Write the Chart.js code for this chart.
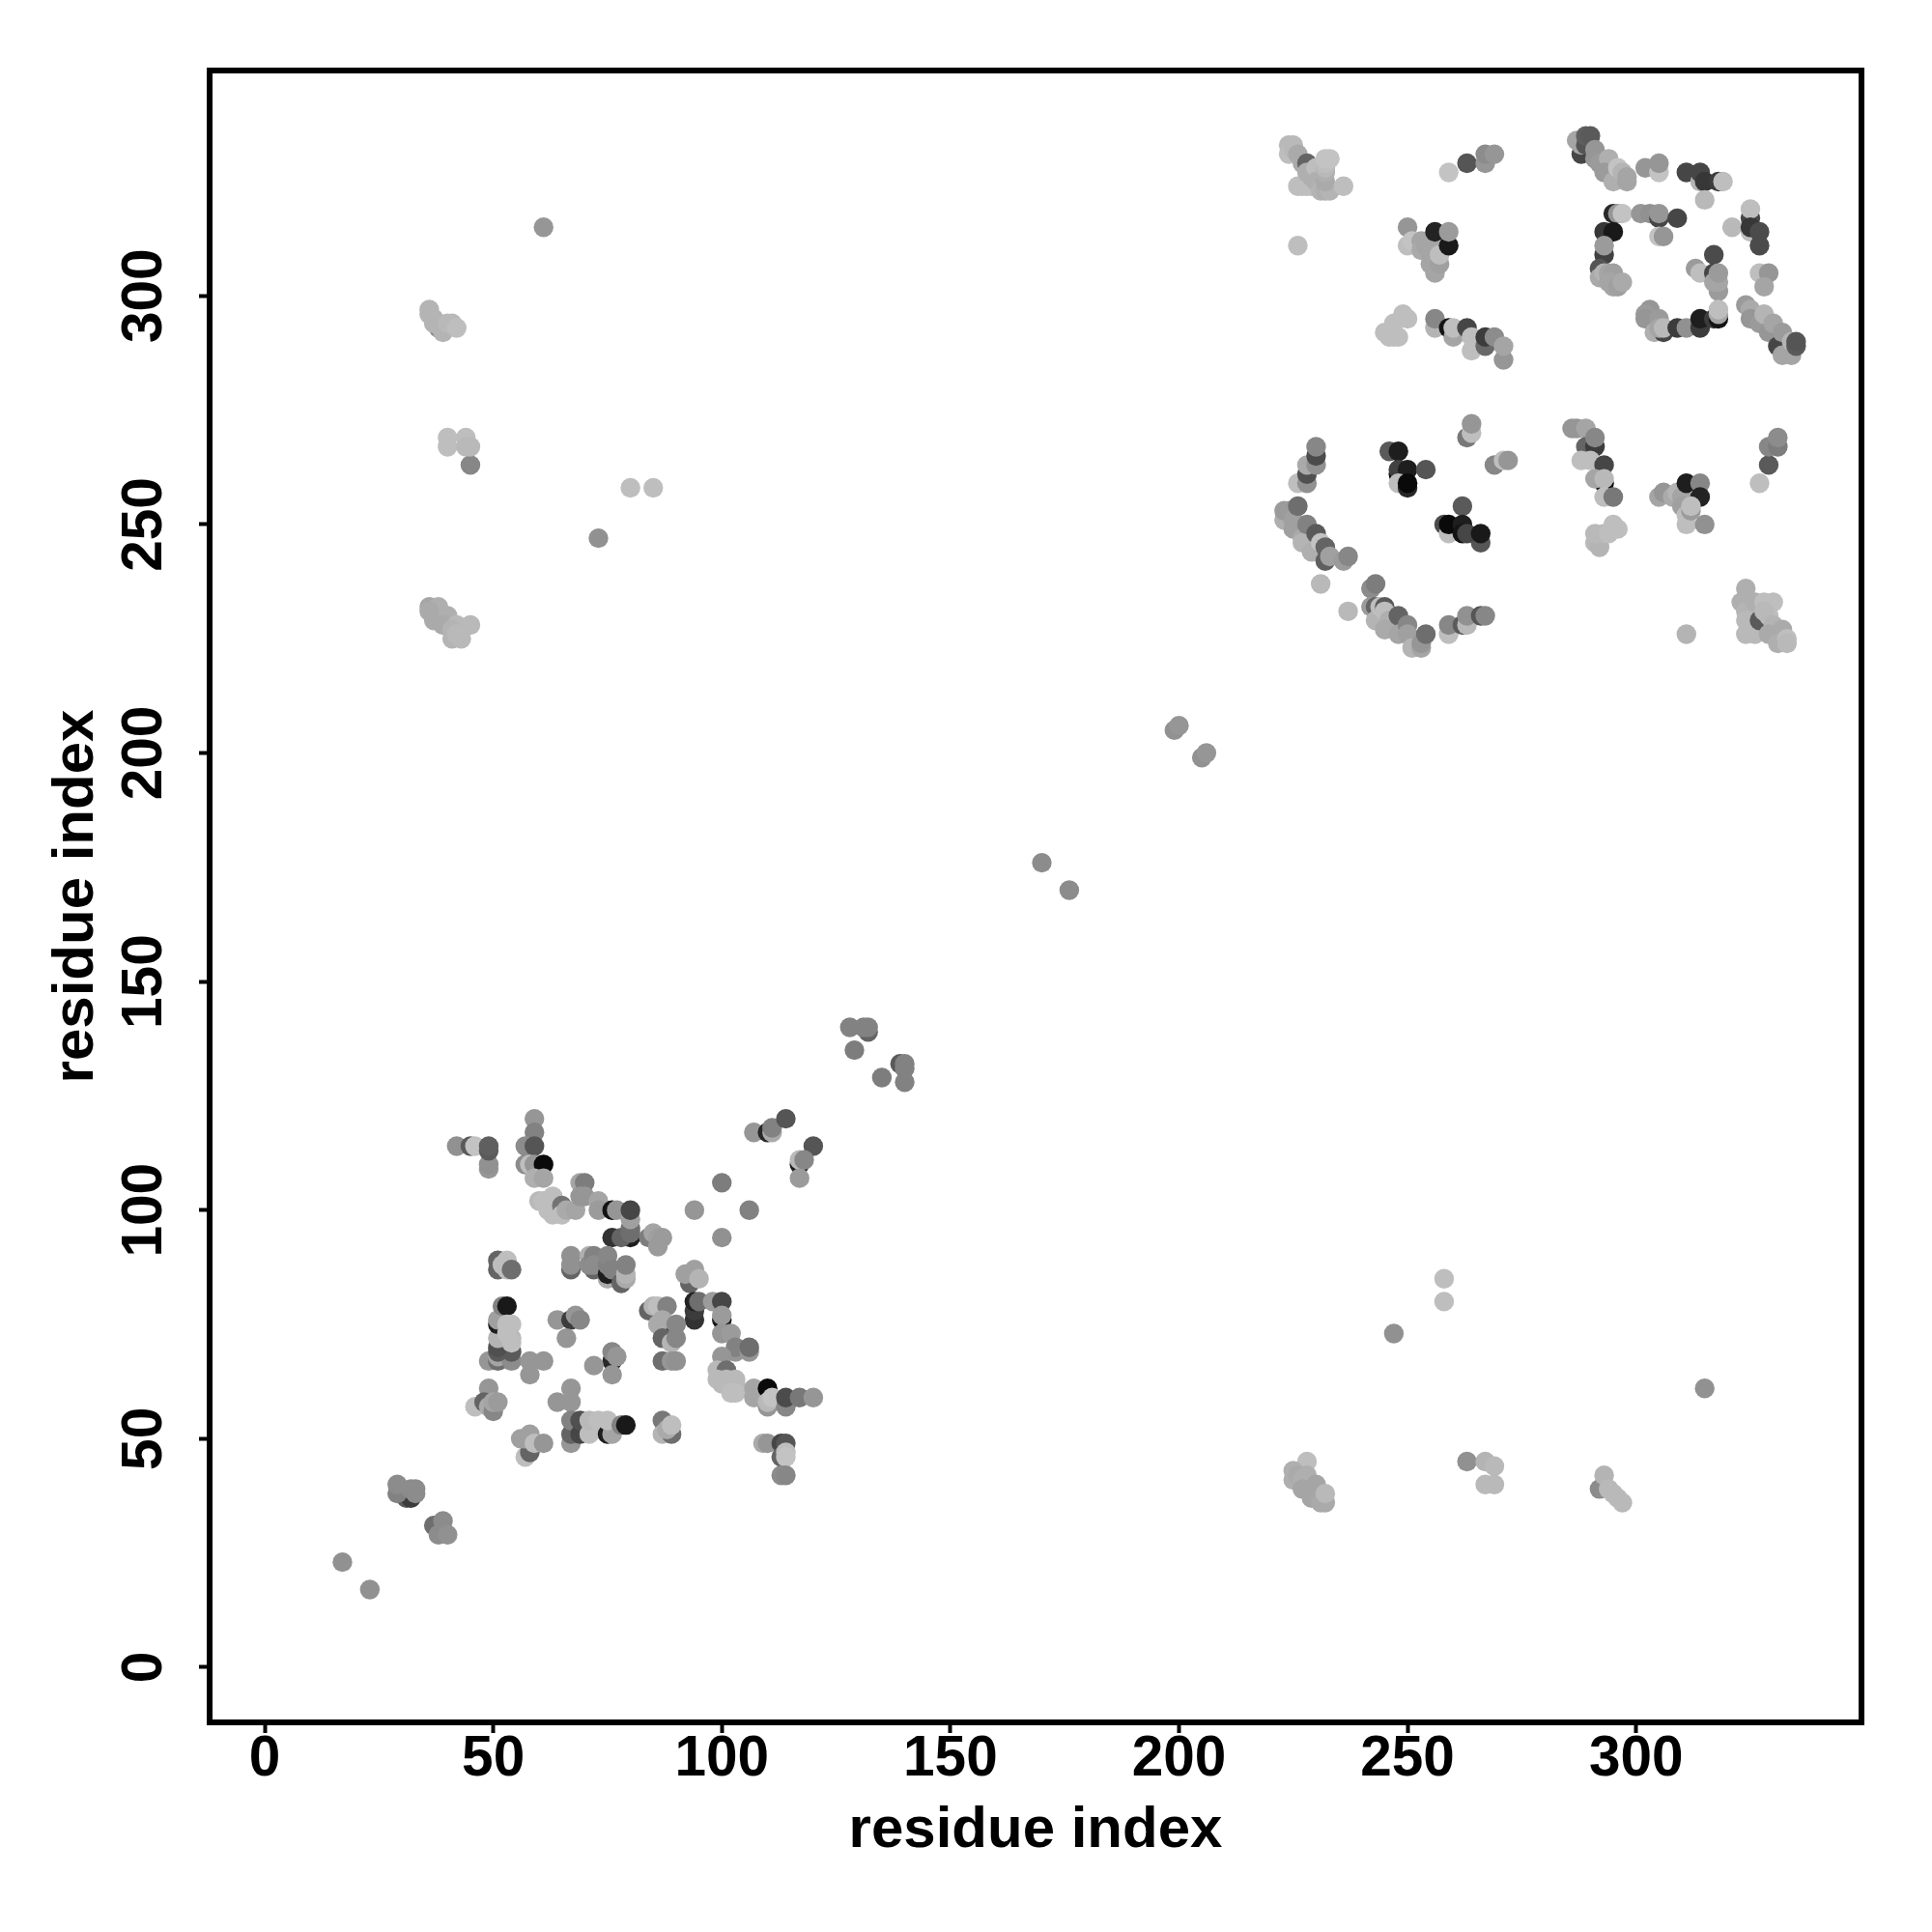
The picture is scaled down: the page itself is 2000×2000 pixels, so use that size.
<!DOCTYPE html>
<html>
<head>
<meta charset="utf-8">
<title>residue contact map</title>
<script src="https://cdn.jsdelivr.net/npm/chart.js@4"></script>
<style>
    html, body { margin: 0; padding: 0; background: #fff; }
</style>
</head>
<body>
<canvas id="contactMap" width="2000" height="2000"></canvas>
<script>
const tickValues = [0, 50, 100, 150, 200, 250, 300];
const axisLabel = 'residue index';

// contacts, one group per clump: residue x, residue y, grey level
const scatterX = [17,23,61,73,80,85,170,176,199,200,205,206,247,258,258,315,226,311];
const scatterY = [23,17,315,247,258,258,176,170,205,206,199,200,73,85,80,61,311,226];
const scatterG = [145,145,150,145,190,190,140,140,145,150,145,150,145,190,190,145,190,180];

const helixX = [31,32,29,29,32,33,33,37,39,39,38,40];
const helixY = [37,37,38,40,39,38,39,31,32,30,29,29];
const helixG = [90,60,130,140,140,140,140,110,140,140,140,145];

const turnX = [132,128,131,132,129,139,135,140,140,140];
const turnY = [139,140,140,140,135,132,129,132,131,128];
const turnG = [100,130,130,130,125,90,125,130,130,130];

const farTopX = [38,36,36,37,37,39,40,41,42];
const farTopY = [293,297,296,295,294,292,294,294,293];
const farTopG = [140,180,180,180,180,180,185,185,190];

const farMidX = [45,40,40,44,44,45];
const farMidY = [263,269,267,269,267,267];
const farMidG = [135,190,190,190,185,185];

const farLowX = [36,38,36,37,40,39,42,45,41,43,41,42];
const farLowY = [232,232,231,229,230,228,228,228,225,225,227,226];
const farLowG = [165,175,170,170,175,170,185,185,180,185,180,185];

const armTopX = [42,45,46,49,49,49,49,59,59,57,59,57,58,59,61];
const armTopY = [114,114,114,109,110,113,114,120,117,114,114,110,110,110,110];
const armTopG = [145,90,195,150,145,90,95,150,130,140,85,140,190,150,10];

const bandX = [59,61,60,61,62,63,62,63,65,65,66,68,69,70,69,70,73,73,76,77,80,76,78,80,80,80,80];
const bandY = [107,107,102,102,101,103,100,99,101,99,100,100,106,106,103,103,102,100,100,100,94,94,94,95,96,98,100];
const bandG = [175,165,185,190,190,190,190,190,115,190,170,165,165,125,150,150,165,155,20,150,30,50,100,110,110,160,70];

const crossX = [84,85,86,87,86,94,106,100,100];
const crossY = [94,95,94,94,92,100,100,106,94];
const crossG = [125,165,160,155,155,150,130,125,145];

const armRightX = [107,110,111,111,114,120,117,117,118,117];
const armRightY = [117,117,117,118,120,114,110,111,111,107];
const armRightG = [150,40,170,130,85,85,30,185,135,155];

const midLeftX = [51,51,52,53,53,54];
const midLeftY = [87,89,88,89,87,87];
const midLeftG = [100,100,190,190,190,110];

const midRowX = [67,67,67,72,71,71,72,72,75,75,75,75,76,78,79,79,79];
const midRowY = [87,88,90,87,90,88,90,88,85,86,88,90,87,84,85,86,88];
const midRowG = [100,145,145,100,175,140,130,140,170,30,130,135,130,100,170,180,130];

const midRightX = [93,92,94,94,95];
const midRightY = [84,86,87,86,85];
const midRightG = [100,160,160,160,180];

const darkRowX = [94,94,94,95,98,100,100,100,100,102];
const darkRowY = [76,78,80,80,80,80,76,77,73,73];
const darkRowG = [50,60,35,110,155,70,25,155,150,155];

const innerX = [84,85,86,88,87,86,87,87,89,90,90,87,89,90];
const innerY = [78,79,79,79,74,75,76,72,71,75,72,67,67,67];
const innerG = [100,180,190,130,30,170,170,100,180,135,135,110,150,145];

const stackX = [49,51,51,54,54,51,51,51,51,51,52,53,53,54,54,53,54];
const stackY = [67,67,68,67,69,69,70,72,75,76,79,79,75,75,72,73,71];
const stackG = [150,110,165,140,90,90,80,180,30,160,130,25,190,190,185,190,190];

const centreX = [58,61,58,64,67,68,69,66];
const centreY = [67,67,64,76,76,77,76,72];
const centreG = [150,150,150,150,60,150,135,150];

const centreLowX = [76,76,77,72,76];
const centreLowY = [67,69,68,66,64];
const centreLowG = [40,135,150,150,150];

const diagX = [103,103,106,106,100,99,101,99,100,101,103,103,102,103,107,107,110,110,110,111,114,114,117,120];
const diagY = [69,70,69,70,68,65,65,63,62,63,63,62,60,60,61,59,57,61,58,59,57,59,59,59];
const diagG = [150,130,150,110,150,185,110,185,185,185,185,185,190,190,165,165,150,10,185,195,135,75,120,150];

const footX = [109,110,113,114,113,114,114,113,114];
const footY = [49,49,49,49,46,47,46,42,42];
const footG = [170,150,70,85,100,190,195,140,135];

const lowLeftX = [49,46,48,49,50,50,51];
const lowLeftY = [61,57,58,57,56,58,58];
const lowLeftG = [150,190,100,170,135,165,155];

const lowDotsX = [67,64,67];
const lowDotsY = [61,58,58];
const lowDotsG = [150,150,150];

const lowRowX = [67,67,67,69,69,71,71,73,75,76,75,78,79];
const lowRowY = [49,51,54,51,54,51,54,54,51,51,54,53,53];
const lowRowG = [150,100,130,70,80,190,185,190,30,165,190,130,25];

const lowEndX = [87,87,89,88,89];
const lowEndY = [54,51,51,52,53];
const lowEndG = [120,180,110,170,190];

const lowCornerX = [57,58,56,57,58,59,61];
const lowCornerY = [46,47,50,50,51,49,49];
const lowCornerG = [190,100,160,160,160,190,150];

const awayAX = [228,225,225,226,227,228,227,230,229,231,232,232];
const awayAY = [45,43,41,42,41,42,39,40,37,36,36,38];
const awayAG = [190,175,175,170,175,175,165,165,165,170,170,185];

const awayBX = [263,267,269,267,269];
const awayBY = [45,45,44,40,40];
const awayBG = [145,180,185,185,185];

const awayCX = [292,293,294,295,296,297];
const awayCY = [39,42,39,38,37,36];
const awayCG = [140,180,185,185,185,185];

const blockAX = [226,227,228,229,224,225,224,225,226,227,228,228,229,230,230,231,232,233,232,232,232,232,232,233,236];
const blockAY = [324,324,324,324,333,333,331,332,331,329,329,327,326,328,325,323,323,323,325,327,328,329,330,330,324];
const blockAG = [190,190,190,190,185,185,190,185,170,170,100,175,175,190,175,180,175,180,170,175,185,190,195,195,190];

const blockBX = [259,263,267,267,269];
const blockBY = [327,329,329,331,331];
const blockBG = [195,85,150,140,150];

const blockCX = [250,250,251,253,253,254,255,255,255,256,257,257,256,259,259];
const blockCY = [315,311,312,312,310,311,311,309,307,305,307,309,314,311,314];
const blockCG = [150,190,195,165,170,165,165,165,165,165,160,190,35,25,155];

const blockDX = [245,246,247,248,247,249,250];
const blockDY = [292,291,291,291,294,296,295];
const blockDG = [190,190,190,190,190,190,190];

const blockEX = [256,256,259,260,260,263,264,264,267,267,269,271,271];
const blockEY = [293,295,293,291,293,293,288,291,289,291,291,286,289];
const blockEG = [180,135,20,165,190,70,190,190,105,60,140,150,165];

const ringTopX = [288,287,288,289,289,290,291,291,292,294,293,295,296,297,298,298];
const ringTopY = [331,334,333,333,335,335,332,330,329,330,327,325,328,327,325,326];
const ringTopG = [70,165,165,85,95,90,150,150,155,175,155,175,195,180,165,165];

const ringDotsX = [302,305,305];
const ringDotsY = [328,327,329];
const ringDotsG = [150,195,150];

const ringEdgeX = [311,314,314,315,315,318,319];
const ringEdgeY = [327,325,327,325,321,325,325];
const ringEdgeG = [70,180,70,55,185,60,190];

const ringLeftX = [295,296,297,293,295,293,293,292,292,293,294,295,294,295,296,297];
const ringLeftY = [318,318,318,314,314,309,311,306,304,305,305,305,303,302,302,303];
const ringLeftG = [40,150,195,55,25,65,155,85,170,180,165,160,165,165,160,170];

const ringMidX = [301,303,305,305,309,305,306];
const ringMidY = [318,318,317,318,317,313,313];
const ringMidG = [150,145,70,150,70,195,150];

const ringRightX = [325,325,321,325,325,327,327];
const ringRightY = [317,319,315,314,315,314,311];
const ringRightG = [70,190,185,190,55,75,75];

const ringInnerX = [317,313,314,317,318,317,318,318,327,329,328];
const ringInnerY = [309,306,305,305,301,303,303,305,305,305,302];
const ringInnerG = [75,155,190,70,155,165,165,155,190,150,165];

const ringLowX = [303,302,302,305,304,306,305,306,309,311,314,314,317,318,318,318];
const ringLowY = [297,296,295,295,292,292,293,293,293,293,293,295,295,295,296,297];
const ringLowG = [150,155,150,155,175,70,165,185,60,145,60,30,60,20,165,190];

const ringEndX = [324,325,325,327,328,329,330,331,332,332,334,334,335,335];
const ringEndY = [298,297,295,294,296,292,294,289,292,287,287,290,289,290];
const ringEndG = [155,170,150,155,180,150,165,70,155,165,165,180,90,85];

const arcTopX = [226,228,228,228,230,230,230];
const arcTopY = [259,259,261,263,263,265,267];
const arcTopG = [190,145,80,170,145,75,135];

const arcSideX = [223,223,224,225,226,225,227,227,228,229,230,231,232,232,233,236,237];
const arcSideY = [251,253,253,251,254,249,247,246,250,244,248,246,245,242,243,242,243];
const arcSideG = [175,155,155,160,110,160,170,180,130,175,90,195,100,95,160,155,135];

const arcDotsX = [231,237];
const arcDotsY = [237,231];
const arcDotsG = [185,185];

const arcLowX = [242,243,242,243,243,244,245,245,246,245,248,248,250,250,251,253,253,254];
const arcLowY = [236,237,232,232,229,232,232,231,229,227,230,226,228,226,223,223,224,226];
const arcLowG = [140,125,155,100,180,190,90,190,175,170,100,165,135,160,180,165,150,110];

const arcEndX = [259,259,262,263,263,266,267];
const arcEndY = [226,228,228,228,230,230,230];
const arcEndG = [190,135,90,185,145,85,135];

const coreAX = [246,248,248,248,250,254,248,250,250];
const coreAY = [266,266,261,262,262,262,259,258,259];
const coreAG = [90,30,15,65,30,85,190,40,10];

const coreBX = [263,264,264];
const coreBY = [269,270,272];
const coreBG = [120,190,150];

const coreCX = [269,271,272];
const coreCY = [263,264,264];
const coreCG = [135,190,150];

const coreDX = [262,258,259,259,266,262,262,263,266];
const coreDY = [254,250,248,250,246,250,248,248,248];
const coreDG = [90,75,190,10,85,30,20,70,25];

const sheetAX = [286,287,289,289,291,291,288,290,293,293,291,293,293,295];
const sheetAY = [271,271,271,267,267,269,264,264,263,259,260,260,256,256];
const sheetAG = [150,150,165,100,60,135,190,190,70,10,165,185,190,120];

const sheetBX = [291,292,291,293,294,295,296];
const sheetBY = [246,245,248,248,248,250,249];
const sheetBG = [185,180,185,185,190,190,190];

const sheetCX = [305,306,308,309,310,310,311,314,314,311,311,312,312,315];
const sheetCY = [256,257,256,257,256,254,259,259,256,250,252,253,254,250];
const sheetCG = [165,150,170,180,165,160,30,135,35,190,190,155,190,145];

const sheetDX = [327,329,329,331,331];
const sheetDY = [259,263,267,267,269];
const sheetDG = [190,90,135,125,140];

const cornerX = [324,323,324,324,324,324,325,326,326,328,330,327,329,328,330,329,332,331,333,333];
const cornerY = [236,233,233,231,229,226,229,226,233,233,233,229,230,231,228,226,227,224,225,224];
const cornerG = [175,175,175,180,185,185,185,185,175,190,190,90,190,185,180,170,170,175,190,185];

const groups = [
    [scatterX, scatterY, scatterG], [helixX, helixY, helixG], [turnX, turnY, turnG],
    [farTopX, farTopY, farTopG], [farMidX, farMidY, farMidG], [farLowX, farLowY, farLowG],
    [armTopX, armTopY, armTopG], [bandX, bandY, bandG], [crossX, crossY, crossG],
    [armRightX, armRightY, armRightG], [midLeftX, midLeftY, midLeftG], [midRowX, midRowY, midRowG],
    [midRightX, midRightY, midRightG], [darkRowX, darkRowY, darkRowG], [innerX, innerY, innerG],
    [stackX, stackY, stackG], [centreX, centreY, centreG], [centreLowX, centreLowY, centreLowG],
    [diagX, diagY, diagG], [footX, footY, footG], [lowLeftX, lowLeftY, lowLeftG],
    [lowDotsX, lowDotsY, lowDotsG], [lowRowX, lowRowY, lowRowG], [lowEndX, lowEndY, lowEndG],
    [lowCornerX, lowCornerY, lowCornerG], [awayAX, awayAY, awayAG], [awayBX, awayBY, awayBG],
    [awayCX, awayCY, awayCG], [blockAX, blockAY, blockAG], [blockBX, blockBY, blockBG],
    [blockCX, blockCY, blockCG], [blockDX, blockDY, blockDG], [blockEX, blockEY, blockEG],
    [ringTopX, ringTopY, ringTopG], [ringDotsX, ringDotsY, ringDotsG], [ringEdgeX, ringEdgeY, ringEdgeG],
    [ringLeftX, ringLeftY, ringLeftG], [ringMidX, ringMidY, ringMidG], [ringRightX, ringRightY, ringRightG],
    [ringInnerX, ringInnerY, ringInnerG], [ringLowX, ringLowY, ringLowG], [ringEndX, ringEndY, ringEndG],
    [arcTopX, arcTopY, arcTopG], [arcSideX, arcSideY, arcSideG], [arcDotsX, arcDotsY, arcDotsG],
    [arcLowX, arcLowY, arcLowG], [arcEndX, arcEndY, arcEndG], [coreAX, coreAY, coreAG],
    [coreBX, coreBY, coreBG], [coreCX, coreCY, coreCG], [coreDX, coreDY, coreDG],
    [sheetAX, sheetAY, sheetAG], [sheetBX, sheetBY, sheetBG], [sheetCX, sheetCY, sheetCG],
    [sheetDX, sheetDY, sheetDG], [cornerX, cornerY, cornerG]
];

const points = [];
const colours = [];
groups.forEach(([xs, ys, gs]) => {
    xs.forEach((x, i) => {
        points.push({ x, y: ys[i] });
        colours.push(`rgb(${gs[i]},${gs[i]},${gs[i]})`);
    });
});

const fontFamily = '"Liberation Sans", Arial, sans-serif';
const tickFont = { family: fontFamily, size: 58.5, weight: 'bold' };
const titleFont = { family: fontFamily, size: 60, weight: 'bold' };

// box round the plot, R style
const plotBox = {
    id: 'plotBox',
    afterDraw(chart) {
        const { ctx, chartArea: a } = chart;
        ctx.save();
        ctx.strokeStyle = '#000';
        ctx.lineWidth = 6;
        ctx.strokeRect(a.left, a.top, a.right - a.left, a.bottom - a.top);
        ctx.restore();
    }
};

function axisOptions(extraTicks, titlePadding, size) {
    return {
        type: 'linear',
        min: -12.05,
        max: 349.3,
        afterBuildTicks: scale => { scale.ticks = tickValues.map(v => ({ value: v })); },
        afterFit: scale => { if (scale.isHorizontal()) scale.height = size; else scale.width = size; },
        grid: { drawOnChartArea: false, drawTicks: true, tickLength: 11, tickWidth: 4, tickColor: '#000' },
        border: { display: false },
        ticks: { color: '#000', font: tickFont, autoSkip: false, ...extraTicks },
        title: { display: true, text: axisLabel, color: '#000', font: titleFont, padding: titlePadding }
    };
}

new Chart(document.getElementById('contactMap').getContext('2d'), {
    type: 'scatter',
    data: {
        datasets: [{
            data: points,
            backgroundColor: colours,
            pointBackgroundColor: colours,
            pointBorderWidth: 0,
            pointRadius: 10.2
        }]
    },
    options: {
        responsive: false,
        animation: false,
        layout: { padding: { top: 73, right: 73, left: 0, bottom: 0 } },
        plugins: { legend: { display: false }, tooltip: { enabled: false } },
        scales: {
            x: axisOptions({ padding: -7, maxRotation: 0, minRotation: 0 }, { top: 0, bottom: 69 }, 217),
            y: axisOptions({ padding: 6, minRotation: 90, maxRotation: 90, crossAlign: 'center' }, { top: 43, bottom: 0 }, 217)
        }
    },
    plugins: [plotBox]
});
</script>
</body>
</html>
